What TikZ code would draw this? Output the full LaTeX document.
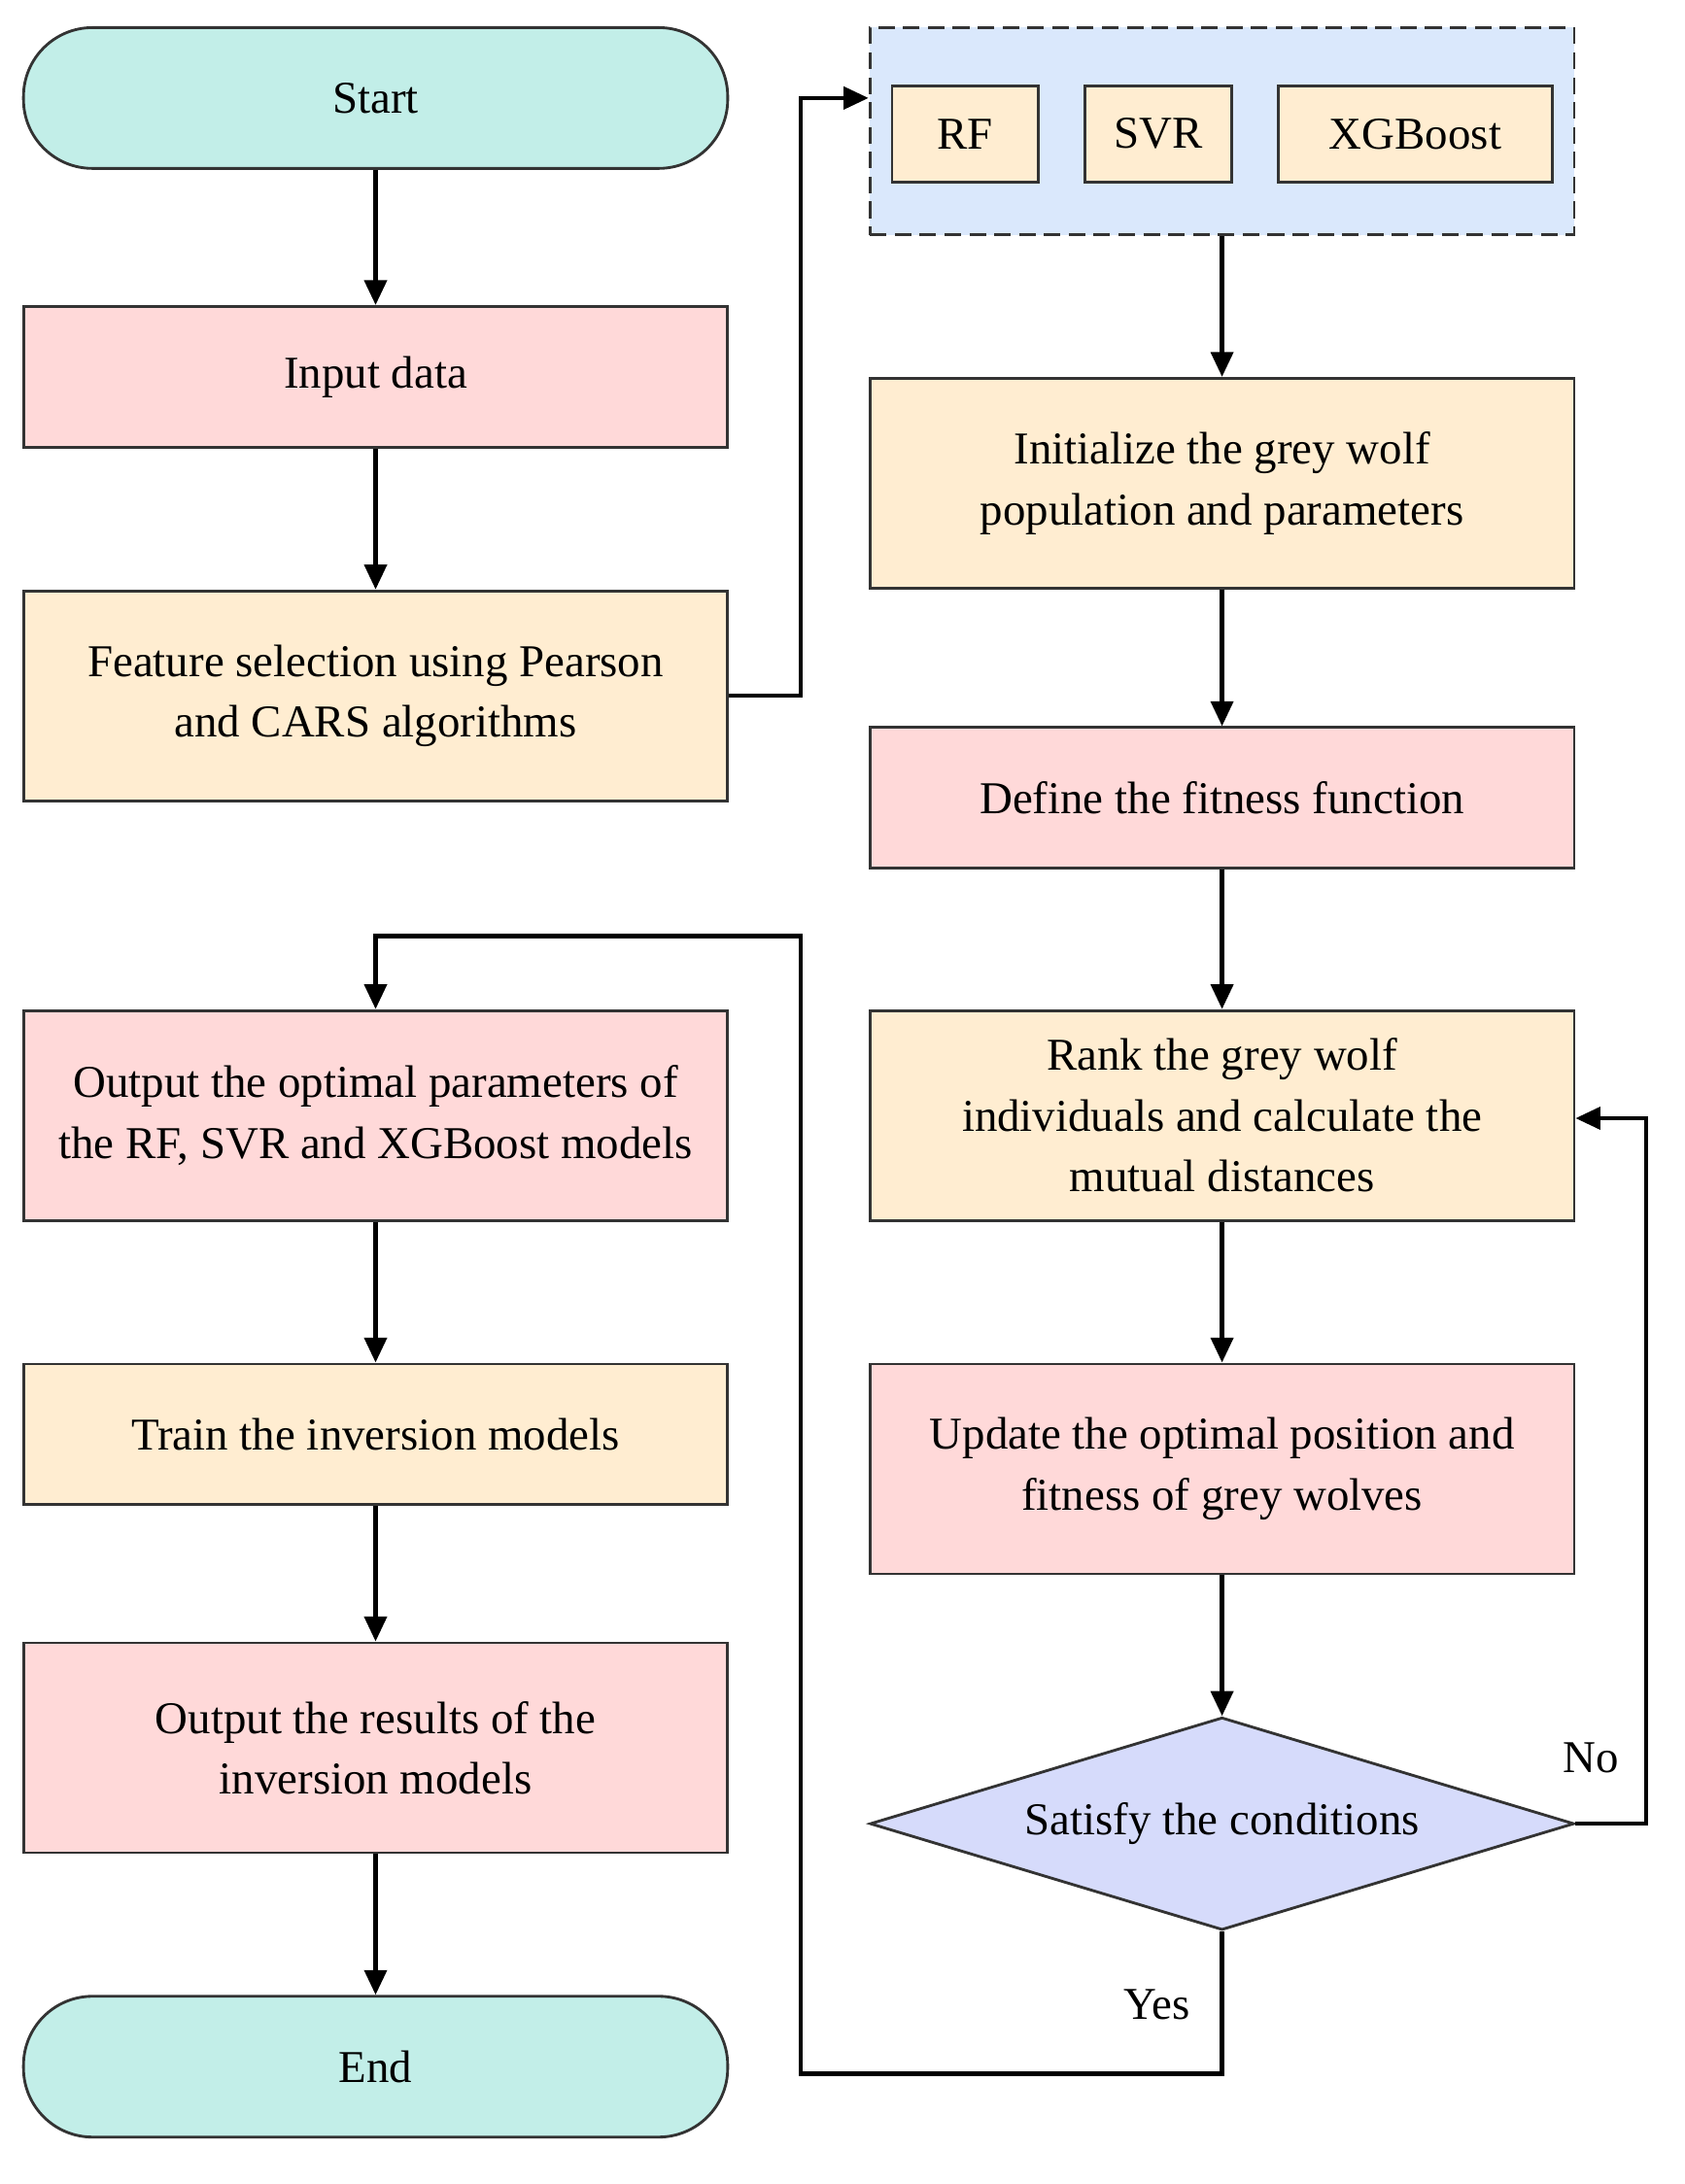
\documentclass[tikz,border=0pt]{standalone}
\usepackage{fontspec}
\setmainfont{Liberation Serif}
\usetikzlibrary{shapes.geometric,arrows.meta}
\definecolor{teal}{HTML}{C2EEE8}
\definecolor{pinkf}{HTML}{FFD9D9}
\definecolor{tanf}{HTML}{FFEDD1}
\definecolor{bluef}{HTML}{DAE8FC}
\definecolor{diaf}{HTML}{D6DBFB}
\definecolor{edge}{HTML}{333333}
\begin{document}
\begin{tikzpicture}[x=0.5pt,y=-0.5pt,
  box/.style={draw=edge,line width=1pt,minimum width=255pt,align=center,font=\fontsize{16.5}{22}\selectfont,inner sep=0pt},
  term/.style={box,rounded corners=25pt,fill=teal,minimum height=51pt},
  arr/.style={line width=1.6pt,-{Triangle[length=9pt,width=8pt]}},
  ln/.style={line width=1.6pt}]
\useasboundingbox (0,0) rectangle (1220,1582);
\node[term] (start) at (272,71) {Start};
\node[box,fill=pinkf,minimum height=51pt] (input) at (272,273) {Input data};
\node[box,fill=tanf,minimum height=76pt] (feat) at (272,504) {Feature selection using Pearson\\and CARS algorithms};
\node[box,fill=pinkf,minimum height=76pt] (outopt) at (272,808) {Output the optimal parameters of\\the RF, SVR and XGBoost models};
\node[box,fill=tanf,minimum height=51pt] (train) at (272,1039) {Train the inversion models};
\node[box,fill=pinkf,minimum height=76pt] (outres) at (272,1266) {Output the results of the\\inversion models};
\node[term] (end) at (272,1497) {End};
\node[box,fill=bluef,dash pattern=on 6pt off 3pt,minimum height=75pt] (grp) at (885,95) {};
\node[box,fill=tanf,minimum width=53pt,minimum height=35pt] (rf) at (699,97) {RF};
\node[box,fill=tanf,minimum width=53pt,minimum height=35pt] (svr) at (839,97) {SVR};
\node[box,fill=tanf,minimum width=99pt,minimum height=35pt] (xgb) at (1025,97) {XGBoost};
\node[box,fill=tanf,minimum height=76pt] (init) at (885,350) {Initialize the grey wolf\\population and parameters};
\node[box,fill=pinkf,minimum height=51pt] (def) at (885,578) {Define the fitness function};
\node[box,fill=tanf,minimum height=76pt] (rank) at (885,808) {Rank the grey wolf\\individuals and calculate the\\mutual distances};
\node[box,fill=pinkf,minimum height=76pt] (upd) at (885,1064) {Update the optimal position and\\fitness of grey wolves};
\node[draw=edge,line width=1pt,fill=diaf,diamond,aspect=3.3,minimum width=255pt,minimum height=77pt,inner sep=0pt,font=\fontsize{16.5}{22}\selectfont] (dia) at (885,1321) {Satisfy the conditions};
\draw[arr] (start) -- (input);
\draw[arr] (input) -- (feat);
\draw[arr] (outopt) -- (train);
\draw[arr] (train) -- (outres);
\draw[arr] (outres) -- (end);
\draw[arr] (feat.east) -- (580,504) -- (580,71) -- (grp.west |- 0,71);
\draw[arr] (grp) -- (init);
\draw[arr] (init) -- (def);
\draw[arr] (def) -- (rank);
\draw[arr] (rank) -- (upd);
\draw[arr] (upd) -- (dia);
\draw[arr] (dia.east) -- (1192,1321) -- (1192,810) -- (rank.east |- 0,810);
\draw[arr] (dia.south) -- (885,1502) -- (580,1502) -- (580,678) -- (272,678) -- (outopt.north);
\node[font=\fontsize{16.5}{20}\selectfont] (no) at (1152,1273) {No};
\node[font=\fontsize{16.5}{20}\selectfont] (yes) at (838,1452) {Yes};
\end{tikzpicture}
\end{document}
